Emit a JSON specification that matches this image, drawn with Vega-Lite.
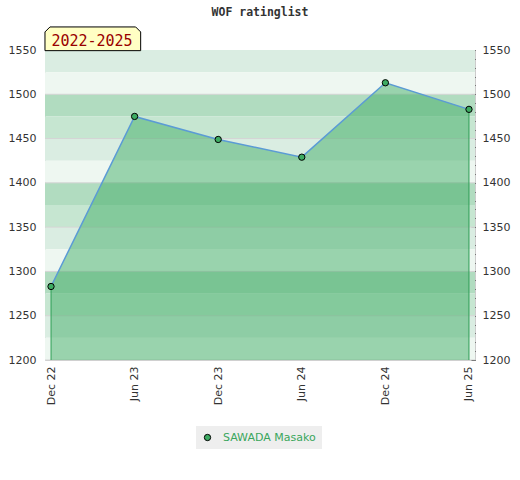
{
  "$schema": "https://vega.github.io/schema/vega-lite/v6.json",
  "width": 430,
  "height": 310,
  "autosize": "none",
  "padding": {"left": 45, "top": 50, "right": 45, "bottom": 120},
  "background": "white",
  "title": {"text": "WOF ratinglist", "font": "DejaVu Sans Mono", "fontSize": 11.5, "fontWeight": "bold", "color": "#333333", "anchor": "middle", "frame": "group", "offset": 6},
  "datasets": {
    "ratings": [
      {"date": "Dec 22", "rating": 1283, "player": "SAWADA Masako"},
      {"date": "Jun 23", "rating": 1475, "player": "SAWADA Masako"},
      {"date": "Dec 23", "rating": 1449, "player": "SAWADA Masako"},
      {"date": "Jun 24", "rating": 1429, "player": "SAWADA Masako"},
      {"date": "Dec 24", "rating": 1513, "player": "SAWADA Masako"},
      {"date": "Jun 25", "rating": 1483, "player": "SAWADA Masako"}
    ],
    "bands": [
      {"y0": 1525, "y1": 1550, "shade": "c"},
      {"y0": 1500, "y1": 1525, "shade": "d"},
      {"y0": 1475, "y1": 1500, "shade": "a"},
      {"y0": 1450, "y1": 1475, "shade": "b"},
      {"y0": 1425, "y1": 1450, "shade": "c"},
      {"y0": 1400, "y1": 1425, "shade": "d"},
      {"y0": 1375, "y1": 1400, "shade": "a"},
      {"y0": 1350, "y1": 1375, "shade": "b"},
      {"y0": 1325, "y1": 1350, "shade": "c"},
      {"y0": 1300, "y1": 1325, "shade": "d"},
      {"y0": 1275, "y1": 1300, "shade": "a"},
      {"y0": 1250, "y1": 1275, "shade": "b"},
      {"y0": 1225, "y1": 1250, "shade": "c"},
      {"y0": 1200, "y1": 1225, "shade": "d"}
    ],
    "tag": [{"label": "2022-2025"}]
  },
  "resolve": {"axis": {"y": "independent"}, "scale": {"color": "independent"}},
  "layer": [
    {
      "data": {"name": "bands"},
      "mark": {"type": "rect"},
      "encoding": {
        "y": {"field": "y0", "type": "quantitative", "scale": {"domain": [1200, 1550], "nice": false, "zero": false},
              "axis": {"orient": "left", "values": [1200, 1250, 1300, 1350, 1400, 1450, 1500, 1550], "format": "d", "ticks": false, "domain": false, "grid": false, "labelPadding": 9, "title": null}},
        "y2": {"field": "y1"},
        "color": {"field": "shade", "type": "nominal", "scale": {"domain": ["a", "b", "c", "d"], "range": ["#b1dcc0", "#c6e6d1", "#daede2", "#eef7f1"]}, "legend": null}
      }
    },
    {
      "data": {"name": "bands"},
      "transform": [{"filter": "datum.y0 % 50 == 0"}],
      "mark": {"type": "rule", "color": "#d4d4d4", "strokeWidth": 1},
      "encoding": {
        "y": {"field": "y0", "type": "quantitative",
              "axis": {"orient": "right", "values": [1200,1210,1220,1230,1240,1250,1260,1270,1280,1290,1300,1310,1320,1330,1340,1350,1360,1370,1380,1390,1400,1410,1420,1430,1440,1450,1460,1470,1480,1490,1500,1510,1520,1530,1540,1550],
                       "format": "d", "labelExpr": "datum.value % 50 === 0 ? datum.label : ''", "offset": -4, "tickSize": 4, "tickColor": "#222222", "labelPadding": 7, "domain": false, "grid": false, "title": null}}
      }
    },
    {
      "data": {"name": "ratings"},
      "mark": {"type": "area", "color": "#3aab5f", "opacity": 0.47, "clip": true},
      "encoding": {
        "x": {"field": "date", "type": "ordinal", "sort": null, "scale": {"type": "point", "padding": 0.072},
              "axis": {"labelAngle": -90, "ticks": false, "domain": false, "grid": false, "labelPadding": 6, "title": null}},
        "y": {"field": "rating", "type": "quantitative", "axis": null},
        "y2": {"datum": 1200}
      }
    },
    {
      "data": {"name": "ratings"},
      "transform": [{"filter": "datum.date == 'Dec 22' || datum.date == 'Jun 25'"}],
      "mark": {"type": "rule", "color": "#2e9e55", "strokeWidth": 1},
      "encoding": {
        "x": {"field": "date", "type": "ordinal", "sort": null},
        "y": {"field": "rating", "type": "quantitative", "axis": null},
        "y2": {"datum": 1200}
      }
    },
    {
      "data": {"name": "ratings"},
      "mark": {"type": "line", "color": "#5b9bd5", "strokeWidth": 1.5},
      "encoding": {
        "x": {"field": "date", "type": "ordinal", "sort": null},
        "y": {"field": "rating", "type": "quantitative", "axis": null}
      }
    },
    {
      "data": {"name": "ratings"},
      "mark": {"type": "point", "filled": true, "size": 40, "stroke": "black", "strokeWidth": 1, "opacity": 1},
      "encoding": {
        "x": {"field": "date", "type": "ordinal", "sort": null},
        "y": {"field": "rating", "type": "quantitative", "axis": null},
        "color": {"field": "player", "type": "nominal", "scale": {"range": ["#3dab62"]},
                  "legend": {"orient": "none", "legendX": 151, "legendY": 376, "title": null}}
      }
    },
    {
      "data": {"name": "tag"},
      "layer": [
        {
          "mark": {"type": "point", "shape": "M-1,0.2476 L-1,-0.1431 L-0.8955,-0.2476 L0.8955,-0.2476 L1,-0.1431 L1,0.2476 Z", "size": 9158, "filled": true, "fill": "#ffffc4", "stroke": "black", "strokeWidth": 1, "opacity": 1, "xOffset": 41.8, "yOffset": -11.2},
          "encoding": {
            "x": {"datum": "Dec 22", "type": "ordinal"},
            "y": {"datum": 1550, "type": "quantitative", "axis": null}
          }
        },
        {
          "mark": {"type": "text", "font": "DejaVu Sans Mono", "fontSize": 15, "color": "#990000", "align": "center", "baseline": "alphabetic", "xOffset": 41, "yOffset": -4.3},
          "encoding": {
            "x": {"datum": "Dec 22", "type": "ordinal"},
            "y": {"datum": 1550, "type": "quantitative", "axis": null},
            "text": {"field": "label"}
          }
        }
      ]
    }
  ],
  "config": {
    "view": {"stroke": "#cccccc"},
    "axis": {"labelFont": "DejaVu Sans", "labelFontSize": 11, "labelColor": "#333333"},
    "legend": {"fillColor": "#eeeeee", "padding": 6, "labelColor": "#3aa65c", "labelFont": "DejaVu Sans", "labelFontSize": 11, "symbolStrokeColor": "black", "symbolStrokeWidth": 1, "symbolSize": 40, "labelOffset": 10, "symbolType": "circle"}
  }
}
